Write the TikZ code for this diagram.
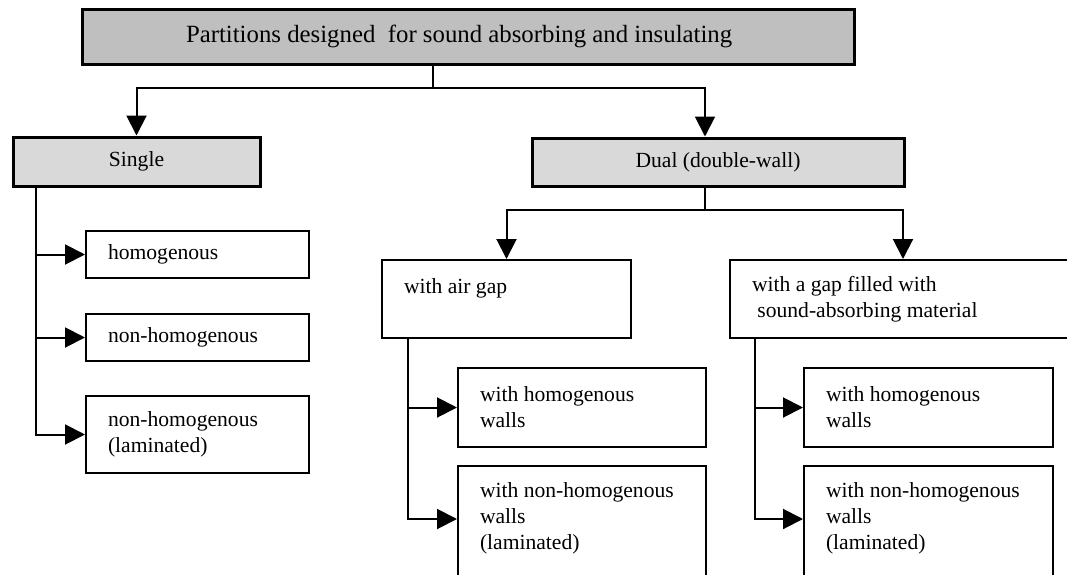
\documentclass[tikz,border=0pt]{standalone}
\usepackage{fontspec}
\setmainfont{Liberation Serif}
\usetikzlibrary{arrows.meta}
\tikzset{
  topbox/.style={draw,line width=1.5pt,fill=black!25,align=flush left,inner xsep=52pt,inner ysep=0pt,font=\fontsize{12.4}{15}\selectfont},
  groupbox/.style={draw,line width=1.5pt,fill=black!15,inner sep=0pt},
  leafbox/.style={draw,line width=1pt,align=flush left,inner xsep=11pt,inner ysep=0pt},
  trunk/.style={line width=1pt},
  link/.style={line width=1pt,-{Triangle[length=10pt,width=10pt]}}
}
\begin{document}
\begin{tikzpicture}[x=0.5pt,y=-0.5pt,font=\fontsize{10.8}{13}\selectfont]
		\useasboundingbox (0,0) rectangle (1067,574);
		\clip (0,0) rectangle (1067,574);
		%the two upper levels
		\node [topbox,text width=282pt,minimum height=27.5pt] (title) at (468,36.5) {Partitions designed\ \ for sound absorbing and insulating};
		\node [groupbox,minimum width=123.5pt,minimum height=24.5pt] (single) at (136.5,161.5) {Single};
		\node [groupbox,minimum width=186pt,minimum height=24pt] (dual) at (718,162) {Dual (double-wall)};
		%single partitions
		\node [leafbox,text width=89.5pt,minimum height=23.5pt] (homog) at (197.5,254.5) {homogenous};
		\node [leafbox,text width=89.5pt,minimum height=23.5pt] (nonhomog) at (197.5,337.5) {non-homogenous};
		\node [leafbox,text width=89.5pt,minimum height=38.5pt] (lamin) at (197.5,434.5) {non-homogenous\\(laminated)};
		%double-wall partitions
		\node [leafbox,text width=102.5pt,minimum height=39pt] (airgap) at (506.5,299) {with air gap\\~};
		\node [leafbox,text width=151pt,minimum height=39pt] (filled) at (903,299) {with a gap filled with\\\hspace*{2.7pt}sound-absorbing material};
		\node [leafbox,text width=102pt,minimum height=39.5pt] (homA) at (582,407.5) {with homogenous\\walls};
		\node [leafbox,text width=102pt,minimum height=63pt] (lamA) at (582,529) {with non-homogenous\\walls\\(laminated)\\~};
		\node [leafbox,text width=102.5pt,minimum height=39.5pt] (homB) at (928.5,407.5) {with homogenous\\walls};
		\node [leafbox,text width=102.5pt,minimum height=63pt] (lamB) at (928.5,529) {with non-homogenous\\walls\\(laminated)\\~};
		\coordinate (split0) at (433,88);
		\coordinate (split1) at (705,210);
		\coordinate (stemS) at (36,0);
		\coordinate (stemA) at (408,0);
		\coordinate (stemB) at (755,0);
		\draw [trunk] (title.south -| split0) -- (split0);
		\draw [link] (split0) -| (single);
		\draw [link] (split0) -| ([xshift=-6.5pt]dual.north);
		\draw [trunk] (dual.south -| split1) -- (split1);
		\draw [link] (split1) -| (airgap);
		\draw [link] (split1) -| (filled);
		\foreach \leaf in {homog,nonhomog,lamin}
			\draw [link] (single.south -| stemS) |- (\leaf);
		\draw [link] (airgap.south -| stemA) |- (homA);
		\draw [link] (airgap.south -| stemA) |- ([yshift=5pt]lamA.west);
		\draw [link] (filled.south -| stemB) |- (homB);
		\draw [link] (filled.south -| stemB) |- ([yshift=5pt]lamB.west);
\end{tikzpicture}
\end{document}
